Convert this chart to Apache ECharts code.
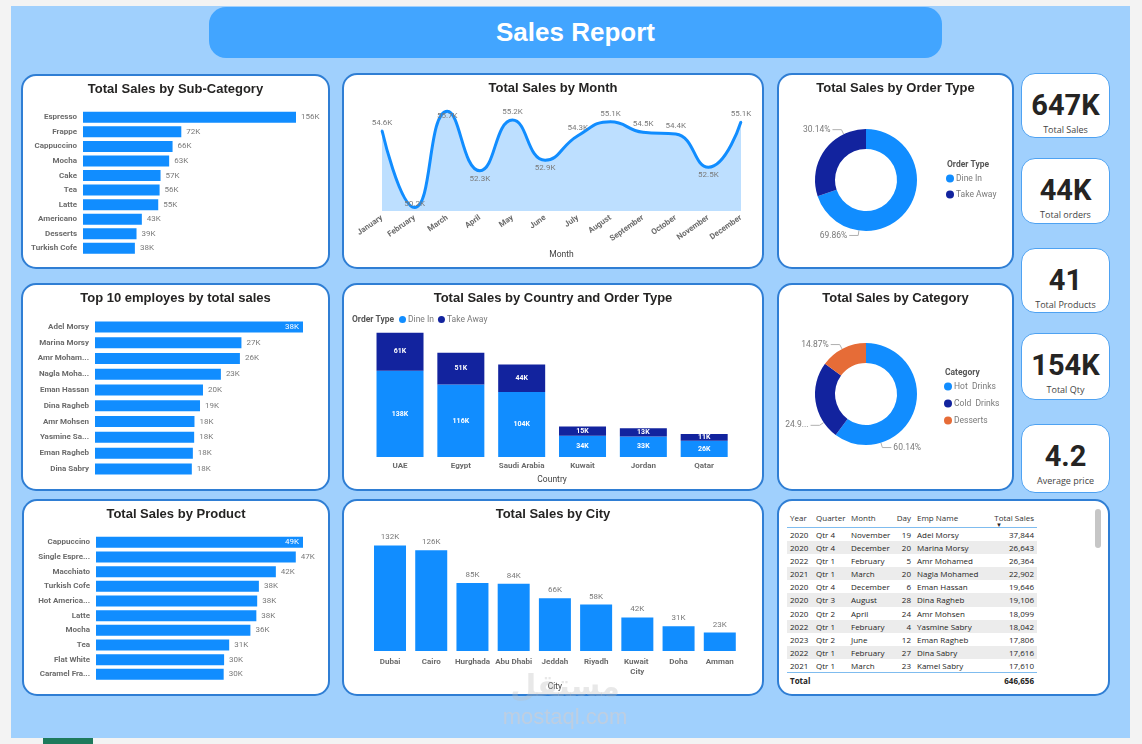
<!DOCTYPE html>
<html>
<head>
<meta charset="utf-8">
<script src="https://cdn.jsdelivr.net/npm/echarts@6/dist/echarts.min.js"></script>
<style>
  html, body { margin:0; padding:0; }
  body { width:1142px; height:744px; background:#f3f3f3; position:relative; overflow:hidden; font-family:"Open Sans","Noto Sans",sans-serif; }
  #canvas { position:absolute; left:11px; top:6px; width:1119px; height:732px; background:#a0d0fd; }
  .abs { position:absolute; box-sizing:border-box; }
  .panel { background:#fff; border:2px solid #2f7ed4; border-radius:15px; }
  .kpi { background:#fff; border:1px solid #4ea2f2; border-radius:14px; text-align:center; }
  .kpiv { position:absolute; left:0; right:0; font-family:Roboto, sans-serif; font-weight:700; font-size:29px; color:#252423; line-height:30px; }
  .kpil { position:absolute; left:0; right:0; font-family:"Open Sans", sans-serif; font-size:9px; color:#444; line-height:12px; }
  #header { left:209px; top:7px; width:733px; height:51px; background:#42a5ff; border-radius:17px; color:#fff;
            font-family:"Liberation Sans", Arial, sans-serif; font-weight:bold; font-size:26px; text-align:center; line-height:50px; }
  table.t { border-collapse:collapse; table-layout:fixed; font-family:"Open Sans", sans-serif; font-size:8px; color:#252423; }
  table.t td, table.t th { padding:0 3px; white-space:nowrap; overflow:hidden; font-weight:normal; }
  table.t th { height:19px; color:#333; text-align:left; vertical-align:middle; border-bottom:1.5px solid #7fbcef; position:relative; }
  table.t td { height:13.1px; line-height:13.1px; }
  table.t tr.alt td { background:#ececec; }
  table.t tr.tot td { border-top:1.5px solid #7fbcef; height:16px; font-weight:bold; }
  .r { text-align:right !important; }
</style>
</head>
<body>
<div id="canvas"></div>
<div id="header" class="abs">Sales Report</div>
<div id="layer"></div>
<script>
// ---------------- DATA ----------------
const subCats = ['Espresso','Frappe','Cappuccino','Mocha','Cake','Tea','Latte','Americano','Desserts','Turkish Cofe'];
const subVals = [156, 72, 65.6, 63.1, 56.8, 56.1, 55.1, 43.1, 39.2, 38.0];

const months = ['January','February','March','April','May','June','July','August','September','October','November','December'];
const monthVals = [54.6, 50.2, 55.7, 52.3, 55.2, 52.9, 54.3, 55.1, 54.5, 54.4, 52.5, 55.1];

const orderTypes = ['Dine In','Take Away'];
const orderTypeVals = [451.75, 194.91];

const employees = ['Adel Morsy','Marina Morsy','Amr Mohamed','Nagla Mohamed','Eman Hassan','Dina Ragheb','Amr Mohsen','Yasmine Sabry','Eman Ragheb','Dina Sabry'];
const employeeVals = [37844, 26643, 26364, 22902, 19646, 19106, 18099, 18042, 17806, 17616];

const countries = ['UAE','Egypt','Saudi Arabia','Kuwait','Jordan','Qatar'];
const dineInVals = [138, 116, 104, 34, 33, 26];
const takeAwayVals = [61, 51, 44, 15, 13, 11];

const categories = ['Hot  Drinks','Cold  Drinks','Desserts'];
const categoryVals = [60.14, 24.99, 14.87];

const products = ['Cappuccino','Single Espresso','Macchiato','Turkish Cofe','Hot Americano','Latte','Mocha','Tea','Flat White','Caramel Frappe'];
const productVals = [48.8, 47.1, 42.4, 38.4, 38.0, 37.8, 36.4, 31.4, 30.2, 30.1];

const cities = ['Dubai','Cairo','Hurghada','Abu Dhabi','Jeddah','Riyadh','Kuwait City','Doha','Amman'];
const cityVals = [132, 126, 85, 84, 66, 58, 42, 31, 23];

const kpiValues = ['647K','44K','41','154K','4.2'];
const kpiLabels = ['Total Sales','Total orders','Total Products','Total Qty','Average price'];

const tableHeaders = ['Year','Quarter','Month','Day','Emp Name','Total Sales'];
const tblYears = [2020, 2020, 2022, 2021, 2020, 2020, 2020, 2022, 2023, 2022, 2021];
const tblQuarters = ['Qtr 4','Qtr 4','Qtr 1','Qtr 1','Qtr 4','Qtr 3','Qtr 2','Qtr 1','Qtr 2','Qtr 1','Qtr 1'];
const tblMonths = ['November','December','February','March','December','August','April','February','June','February','March'];
const tblDays = [19, 20, 5, 20, 6, 28, 24, 4, 12, 27, 23];
const tblEmps = ['Adel Morsy','Marina Morsy','Amr Mohamed','Nagla Mohamed','Eman Hassan','Dina Ragheb','Amr Mohsen','Yasmine Sabry','Eman Ragheb','Dina Sabry','Kamel Sabry'];
const tblSales = [37844, 26643, 26364, 22902, 19646, 19106, 18099, 18042, 17806, 17616, 17610];
const tblTotal = 646656;

// ---------------- STYLE ----------------
const BLUE = '#118dff', NAVY = '#12239e', ORANGE = '#e66c37';
const LBL = '#7a7a7a', AX = '#6b6b6b';
const FONT = 'Roboto, "Open Sans", sans-serif';
const titleStyle = {fontFamily:'"Liberation Sans", Arial, sans-serif', fontWeight:'bold', fontSize:13, color:'#252423'};

const layer = document.getElementById('layer');
function box(cls, x, y, w, h, id){
  const d = document.createElement('div');
  d.className = 'abs ' + cls;
  d.style.left = x+'px'; d.style.top = y+'px'; d.style.width = w+'px'; d.style.height = h+'px';
  if (id) d.id = id;
  layer.appendChild(d);
  return d;
}
function chart(x, y, w, h, opt){
  box('panel', x, y, w, h);
  const d = box('', x, y, w, h);
  const c = echarts.init(d, null, {renderer:'canvas', width:w, height:h});
  opt.animation = false;
  c.setOption(opt);
  return c;
}
function mainTitle(t){ return {text:t, left:'center', top:9, padding:0, textStyle:titleStyle}; }

// ---------- horizontal bar helper ----------
function hbar(x, y, w, h, title, cats, vals, g, fmt, maxInside, lblWidth){
  const mx = Math.max.apply(null, vals);
  const data = vals.map(v => (maxInside && v === mx)
      ? {value:v, label:{position:'insideRight', color:'#fff', distance:4}} : v);
  const yl = {color:AX, fontWeight:'bold', fontSize:8, fontFamily:FONT, margin:6};
  if (lblWidth) { yl.width = lblWidth; yl.overflow = 'truncate'; yl.ellipsis = '...'; }
  return chart(x, y, w, h, {
    title: mainTitle(title),
    grid: g,
    xAxis: {type:'value', min:0, max:mx, show:false},
    yAxis: {type:'category', inverse:true, data:cats, axisLine:{show:false}, axisTick:{show:false}, axisLabel:yl},
    series: [{type:'bar', data:data, barWidth:11, itemStyle:{color:BLUE},
      label:{show:true, position:'right', distance:5, formatter:p => fmt(p.value), color:LBL, fontSize:8, fontFamily:FONT}}]
  });
}

// Panel 1: Sub-category
hbar(21, 74, 309, 195, 'Total Sales by Sub-Category', subCats, subVals,
     {left:62, top:36, width:213, height:145.6}, v => Math.round(v)+'K', false, null);

// Panel 4: employees
hbar(21, 283, 309, 208, 'Top 10 employes by total sales', employees, employeeVals,
     {left:74, top:36, width:208, height:157.8}, v => Math.round(v/1000)+'K', true, 54);

// Panel 7: products
hbar(22, 499, 308, 197, 'Total Sales by Product', products, productVals,
     {left:74, top:36, width:207, height:146.7}, v => Math.round(v)+'K', true, 54);

// Panel 2: month area
(function(){
  const ymin = 50, ymax = 56;
  const data = monthVals.map((v, i) => {
    const prev = i > 0 ? monthVals[i-1] : Infinity, next = i < monthVals.length-1 ? monthVals[i+1] : Infinity;
    let pos = 'top', dist = 3;
    if (v < prev && v < next) pos = 'bottom';
    if (v - ymin < 1) { pos = 'top'; dist = -1; }
    if (ymax - v < 0.5) { pos = 'bottom'; dist = 0; }
    return {value:v, label:{position:pos, distance:dist}};
  });
  chart(342, 73, 422, 196, {
    title: mainTitle('Total Sales by Month'),
    grid: {left:40, right:23, top:33, bottom:58},
    xAxis: {type:'category', data:months, boundaryGap:false, name:'Month', nameLocation:'middle', nameGap:39,
      nameTextStyle:{color:'#444', fontSize:8.5, fontFamily:FONT},
      axisLine:{show:false}, axisTick:{show:false},
      axisLabel:{rotate:35, color:AX, fontWeight:'bold', fontSize:8, fontFamily:FONT, margin:6, interval:0}},
    yAxis: {type:'value', min:ymin, max:ymax, show:false},
    series: [{type:'line', data:data, smooth:0.5, symbol:'circle', symbolSize:2, showSymbol:true,
      itemStyle:{color:BLUE}, lineStyle:{color:BLUE, width:3}, areaStyle:{color:'rgba(17,141,255,0.4)', origin:'start'},
      label:{show:true, formatter:p => p.value.toFixed(1)+'K', color:LBL, fontSize:8, fontFamily:FONT},
      emphasis:{disabled:true}}]
  });
})();

// donut helper: labels anchored at given angles (degrees clockwise from 12 o'clock)
function donut(x, y, w, h, title, legendTitle, names, vals, colors, center, legendPos, legendGap, labelAngles, truncIdx){
  const R = 51;
  const data = names.map((n, i) => {
    const o = {name:n, value:vals[i], itemStyle:{color:colors[i]}};
    if (i === truncIdx) o.label = {width:26, overflow:'truncate', ellipsis:'...'};
    return o;
  });
  return chart(x, y, w, h, {
    title: [mainTitle(title),
      {text:legendTitle, left:legendPos[0], top:legendPos[1], padding:0,
       textStyle:{fontFamily:FONT, fontWeight:'bold', fontSize:8.5, color:'#555'}}],
    legend: {orient:'vertical', left:legendPos[0]-1, top:legendPos[1]+14, icon:'circle', itemWidth:8, itemHeight:8,
      itemGap:legendGap, padding:0, textStyle:{color:LBL, fontSize:8.5, fontFamily:FONT, padding:[0,0,0,-3]}, data:names},
    series: [{type:'pie', radius:[31, R], center:center, startAngle:90, clockwise:true, data:data,
      label:{show:true, formatter:'{d}%', color:LBL, fontSize:8.5, fontFamily:FONT},
      labelLine:{show:true, length:4, length2:6, lineStyle:{color:'#b0b0b0', width:1}},
      labelLayout: function(p){
        const a = labelAngles[p.dataIndex] * Math.PI / 180;
        const s = Math.sin(a), c = Math.cos(a);
        const p0 = [center[0] + R*s, center[1] - R*c];
        const p1 = [center[0] + (R+5)*s, center[1] - (R+5)*c];
        const left = s < 0;
        const p2 = [p1[0] + (left ? -9 : 9), p1[1]];
        return {x: p2[0] + (left ? -2 : 2), y: p2[1], align: left ? 'right' : 'left', verticalAlign:'middle',
                labelLinePoints:[p0, p1, p2]};
      },
      emphasis:{disabled:true}}]
  });
}

// Panel 3
donut(777, 73, 237, 196, 'Total Sales by Order Type', 'Order Type', orderTypes, orderTypeVals,
      [BLUE, NAVY], [89, 107], [170, 87], 7, [188, 334], -1);
// Panel 6
donut(777, 283, 237, 208, 'Total Sales by Category', 'Category', categories, categoryVals,
      [BLUE, NAVY, ORANGE], [89, 111], [168, 85], 8, [163, 236, 332], 1);

// Panel 5: country stacked
chart(342, 283, 422, 208, {
  title: [mainTitle('Total Sales by Country and Order Type'),
    {text:'Order Type', left:10, top:32, padding:0, textStyle:{fontFamily:FONT, fontWeight:'bold', fontSize:8.5, color:'#555'}}],
  legend: {left:57, top:32, icon:'circle', itemWidth:7, itemHeight:7, itemGap:4, padding:0,
    textStyle:{color:LBL, fontSize:8.5, fontFamily:FONT, padding:[0,0,0,-3]}, data:orderTypes},
  grid: {left:27.6, top:49, width:365, height:125},
  xAxis: {type:'category', data:countries, name:'Country', nameLocation:'middle', nameGap:16,
    nameTextStyle:{color:'#444', fontSize:8.5, fontFamily:FONT},
    axisLine:{show:false}, axisTick:{show:false},
    axisLabel:{color:AX, fontWeight:'bold', fontSize:8, fontFamily:FONT, margin:5, interval:0}},
  yAxis: {type:'value', min:0, max:200, show:false},
  series: [
    {name:orderTypes[0], type:'bar', stack:'t', data:dineInVals, barWidth:47, itemStyle:{color:BLUE},
     label:{show:true, position:'inside', formatter:'{c}K', color:'#fff', fontWeight:'bold', fontSize:7, fontFamily:FONT}},
    {name:orderTypes[1], type:'bar', stack:'t', data:takeAwayVals, barWidth:47, itemStyle:{color:NAVY},
     label:{show:true, position:'inside', formatter:'{c}K', color:'#fff', fontWeight:'bold', fontSize:7, fontFamily:FONT}}
  ]
});

// Panel 8: city
chart(342, 499, 422, 197, {
  title: mainTitle('Total Sales by City'),
  grid: {left:27.4, top:40, width:371, height:112},
  xAxis: {type:'category', data:cities, name:'City', nameLocation:'middle', nameGap:26,
    nameTextStyle:{color:'#444', fontSize:8.5, fontFamily:FONT},
    axisLine:{show:false}, axisTick:{show:false},
    axisLabel:{color:AX, fontWeight:'bold', fontSize:8, fontFamily:FONT, margin:6, interval:0, width:39, overflow:'break', lineHeight:10}},
  yAxis: {type:'value', min:0, max:140, show:false},
  series: [{type:'bar', data:cityVals, barWidth:32, itemStyle:{color:BLUE},
    label:{show:true, position:'top', distance:4, formatter:'{c}K', color:LBL, fontSize:8, fontFamily:FONT}}]
});

// KPI cards
const kpiBoxes = [[73,65],[158,66],[248,65],[333,67],[424,69]];
kpiValues.forEach((v, i) => {
  const [ty, hh] = kpiBoxes[i];
  const k = box('kpi', 1021, ty, 89, hh);
  const a = document.createElement('div'); a.className = 'kpiv'; a.style.top = '16px'; a.textContent = v; k.appendChild(a);
  const b = document.createElement('div'); b.className = 'kpil'; b.style.top = '50px'; b.textContent = kpiLabels[i]; k.appendChild(b);
});

// Table panel
box('panel', 777, 499, 333, 197);
(function(){
  const wrap = box('', 787, 508, 250, 185);
  const widths = [26, 35, 45, 21, 71, 52];
  const fmt = n => n.toLocaleString('en-US');
  let html = '<table class="t" style="width:250px"><colgroup>' + widths.map(w => '<col style="width:'+w+'px">').join('') + '</colgroup><tr>';
  tableHeaders.forEach((h, i) => {
    const right = (i === 3 || i === 5);
    html += '<th class="' + (right ? 'r' : '') + '">' + h +
      (i === 5 ? '<span style="position:absolute;left:11px;top:13px;font-size:6px;color:#252423">&#9660;</span>' : '') + '</th>';
  });
  html += '</tr>';
  tblYears.forEach((y, i) => {
    html += '<tr class="' + (i % 2 ? 'alt' : '') + '"><td>' + y + '</td><td>' + tblQuarters[i] + '</td><td>' + tblMonths[i] +
      '</td><td class="r">' + tblDays[i] + '</td><td>' + tblEmps[i] + '</td><td class="r">' + fmt(tblSales[i]) + '</td></tr>';
  });
  html += '<tr class="tot"><td colspan="2">Total</td><td></td><td></td><td></td><td class="r">' + fmt(tblTotal) + '</td></tr></table>';
  wrap.innerHTML = html;
  const sb = box('', 1095, 509, 6, 39); sb.style.background = '#c6c6c6'; sb.style.borderRadius = '3px';
})();

// watermark & bottom bar
(function(){
  const w1 = box('', 465, 668, 200, 36); w1.textContent = 'مستقل';
  w1.style.cssText += 'text-align:center;font-family:"DejaVu Sans",sans-serif;font-weight:bold;font-size:30px;color:rgba(190,190,190,0.35);line-height:36px;';
  const w2 = box('', 465, 704, 200, 26); w2.textContent = 'mostaql.com';
  w2.style.cssText += 'text-align:center;font-family:"Liberation Sans",sans-serif;font-size:22px;color:rgba(200,205,215,0.75);line-height:26px;';
  const g = box('', 43, 738, 50, 6); g.style.background = '#1e7a5c';
})();
</script>
</body>
</html>
